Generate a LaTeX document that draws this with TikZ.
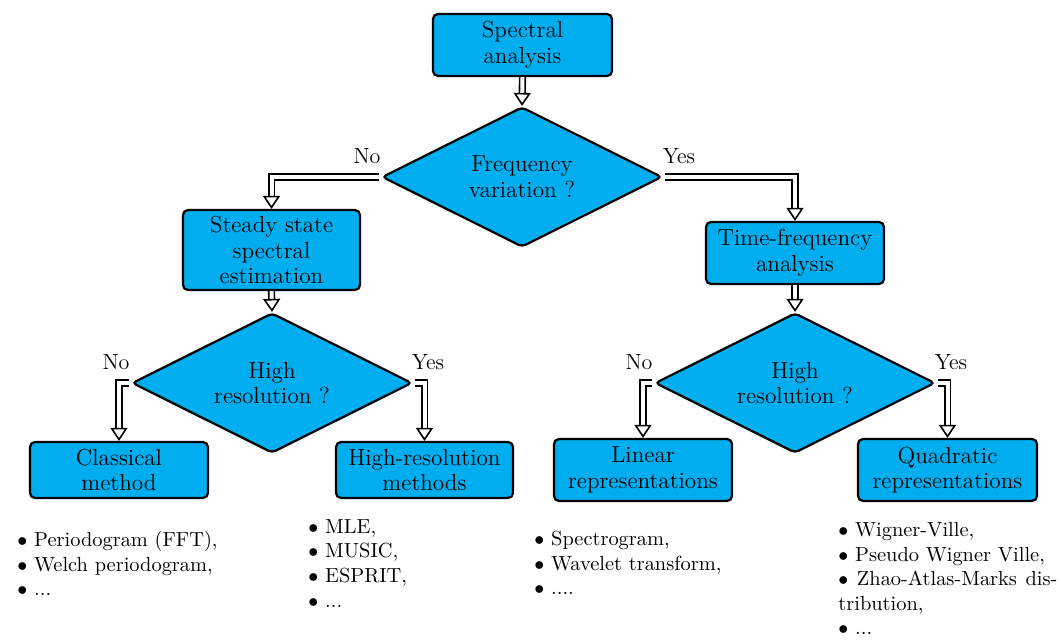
\documentclass[tikz,border=0pt]{standalone}
\usetikzlibrary{shapes.geometric,arrows.meta}
\definecolor{boxblue}{HTML}{00AEEF}
\begin{document}
\begin{tikzpicture}[x=0.5pt,y=-0.5pt,
 box/.style={draw=black, line width=1.1pt, fill=boxblue, rounded corners=2.5pt, align=center, inner sep=0pt, font=\fontsize{11.6}{12.9}\selectfont},
 dia/.style={diamond, aspect=2, draw=black, line width=1.1pt, fill=boxblue, rounded corners=2pt, align=center, inner sep=0pt, minimum width=140pt, minimum height=70pt, font=\fontsize{11.6}{12.9}\selectfont},
 dbl/.style={double=white, double distance=2pt, line width=0.8pt, -{Triangle[open,fill=white,length=6.5pt,width=8.5pt,line width=0.8pt]}},
 lbl/.style={font=\fontsize{11}{12}\selectfont, inner sep=0pt},
 lst/.style={font=\fontsize{10.2}{12.3}\selectfont, align=left, inner sep=0pt, anchor=north west}]
\useasboundingbox (0,0) rectangle (1061,640);
\fill[white] (0,0) rectangle (1061,640);

\node[box, minimum width=89.5pt, minimum height=31pt] (sa) at (522.5,45) {Spectral\\analysis};
\node[dia] (d1) at (522,177) {Frequency\\variation ?};
\node[box, minimum width=88.5pt, minimum height=40pt] (ss) at (271.5,250) {Steady state\\spectral\\estimation};
\node[box, minimum width=89pt, minimum height=31pt] (tf) at (795,253) {Time-frequency\\analysis};
\node[dia] (d2) at (272,383) {High\\resolution ?};
\node[dia] (d3) at (795,383) {High\\resolution ?};
\node[box, minimum width=89pt, minimum height=28pt] (cm) at (119,470) {Classical\\method};
\node[box, minimum width=88.5pt, minimum height=28pt] (hr) at (424.5,470) {High-resolution\\methods};
\node[box, minimum width=89pt, minimum height=31pt] (lr) at (643,470) {Linear\\representations};
\node[box, minimum width=89.5pt, minimum height=31pt] (qr) at (947.5,470) {Quadratic\\representations};

\draw[dbl] (sa.south) -- (d1.north);
\draw[dbl, shorten <=1pt] (d1.west) -| (ss.north);
\draw[dbl, shorten <=1pt] (d1.east) -| (tf.north);
\draw[dbl] (ss.south) -- (d2.north);
\draw[dbl] (tf.south) -- (d3.north);
\draw[dbl, shorten <=1pt] (d2.west) -| (cm.north);
\draw[dbl, shorten <=1pt] (d2.east) -| (hr.north);
\draw[dbl, shorten <=1pt] (d3.west) -| (lr.north);
\draw[dbl, shorten <=1pt] (d3.east) -| (qr.north);

\node[lbl] (n1) at (367,156) {No};
\node[lbl] (y1) at (679,156) {Yes};
\node[lbl] (n2) at (116,362) {No};
\node[lbl] (y2) at (428,362) {Yes};
\node[lbl] (n3) at (639,362) {No};
\node[lbl] (y3) at (951,362) {Yes};

\node[lst] (l1) at (17,531) {$\bullet$ Periodogram (FFT),\\$\bullet$ Welch periodogram,\\$\bullet$ ...};
\node[lst] (l2) at (308,519) {$\bullet$ MLE,\\$\bullet$ MUSIC,\\$\bullet$ ESPRIT,\\$\bullet$ ...};
\node[lst] (l3) at (534,531) {$\bullet$ Spectrogram,\\$\bullet$ Wavelet transform,\\$\bullet$ ....};
\node[lst, text width=109.5pt, align=justify] (l4) at (838,522) {$\bullet$ Wigner-Ville,\\$\bullet$ Pseudo Wigner Ville,\\$\bullet$ Zhao-Atlas-Marks dis-\linebreak tribution,\\$\bullet$ ...};
\end{tikzpicture}
\end{document}
